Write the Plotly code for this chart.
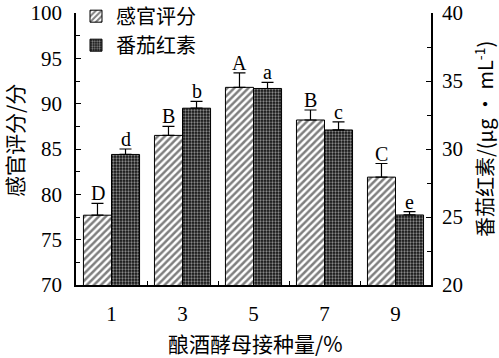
import plotly.graph_objects as go

categories = ["1", "3", "5", "7", "9"]
sensory = [77.7, 86.5, 91.8, 88.2, 81.9]
sensory_err = [1.3, 1.0, 1.6, 1.1, 1.5]
sensory_letters = ["D", "B", "A", "B", "C"]
lycopene = [29.6, 33.0, 34.45, 31.4, 25.15]
lycopene_err = [0.4, 0.5, 0.45, 0.6, 0.25]
lycopene_letters = ["d", "b", "a", "c", "e"]

SERIF = "Liberation Serif, Noto Sans CJK SC"
CJK = "Noto Sans CJK SC, Liberation Serif"

fig = go.Figure()
fig.add_trace(go.Bar(
    x=categories, y=sensory, name="感官评分", yaxis="y", offsetgroup="a",
    marker=dict(color="white", line=dict(color="black", width=1),
                pattern=dict(shape="/", fgcolor="black", bgcolor="white", size=5, solidity=0.5)),
    error_y=dict(type="data", array=sensory_err, arrayminus=[0]*5, symmetric=False,
                 color="black", thickness=1.2, width=6),
))
fig.add_trace(go.Bar(
    x=categories, y=lycopene, name="番茄红素", yaxis="y2", offsetgroup="b",
    marker=dict(color="black", line=dict(color="black", width=1),
                pattern=dict(shape=".", fgcolor="white", bgcolor="#111111", size=3, solidity=0.45)),
    error_y=dict(type="data", array=lycopene_err, arrayminus=[0]*5, symmetric=False,
                 color="black", thickness=1.2, width=6),
))

annotations = []
for i, c in enumerate(categories):
    annotations.append(dict(x=i, y=sensory[i] + sensory_err[i], yref="y", xref="x",
                            text=sensory_letters[i], showarrow=False, yanchor="bottom",
                            xshift=-14, yshift=-3, font=dict(family=SERIF, size=20, color="black")))
    annotations.append(dict(x=i, y=lycopene[i] + lycopene_err[i], yref="y2", xref="x",
                            text=lycopene_letters[i], showarrow=False, yanchor="bottom",
                            xshift=14, yshift=-3, font=dict(family=SERIF, size=20, color="black")))

W, H = 499, 358
L, R, T, B = 76, 68, 13, 73
pw, ph = W - L - R, H - T - B

def px_annot(xp, yp, text, angle=0, size=20):
    return dict(x=(xp - L) / pw, y=(H - B - yp) / ph, xref="paper", yref="paper",
                xanchor="center", yanchor="middle", text=text, showarrow=False,
                textangle=angle, font=dict(family=CJK, size=size, color="black"))

annotations += [
    px_annot(14, 141, "感官评分/分", -90, 21),
    px_annot(484, 139, "番茄红素/(μg • mL<sup>-1</sup>)", -90, 20),
    px_annot(255, 343, "酿酒酵母接种量/%", 0, 21),
]

fig.update_layout(
    width=W, height=H, margin=dict(l=L, r=R, t=T, b=B, autoexpand=False),
    paper_bgcolor="white", plot_bgcolor="white",
    barmode="group", bargap=0.21, bargroupgap=0,
    showlegend=True,
    legend=dict(x=0.0, y=1.06, xanchor="left", yanchor="top", bgcolor="rgba(0,0,0,0)",
                font=dict(family=CJK, size=20, color="black"), itemwidth=30,
                tracegroupgap=2, traceorder="normal"),
    xaxis=dict(type="category", range=[-0.5, 4.5], showline=True, linecolor="black", linewidth=1.5,
               ticks="inside", tickson="boundaries", ticklen=4, tickcolor="black",
               tickfont=dict(family=SERIF, size=21, color="black"), ticklabelstandoff=9,
               showgrid=False, zeroline=False),
    yaxis=dict(range=[70, 100], dtick=5, showline=True, linecolor="black", linewidth=1.5,
               ticks="inside", ticklen=5, tickcolor="black",
               minor=dict(dtick=2.5, ticks="inside", ticklen=4, tickcolor="black"),
               tickfont=dict(family=SERIF, size=21, color="black"), ticklabelstandoff=8,
               showgrid=False, zeroline=False),
    yaxis2=dict(range=[20, 40], dtick=5, overlaying="y", side="right", showline=True,
                linecolor="black", linewidth=1.5, ticks="inside", ticklen=5, tickcolor="black",
                minor=dict(dtick=2.5, ticks="inside", ticklen=4, tickcolor="black"),
                tickfont=dict(family=SERIF, size=21, color="black"), ticklabelstandoff=5,
                showgrid=False, zeroline=False),
    annotations=annotations,
)

fig.write_html("out.html", config={"displayModeBar": False},
               post_script="document.body.style.margin='0';document.body.style.padding='0';")
